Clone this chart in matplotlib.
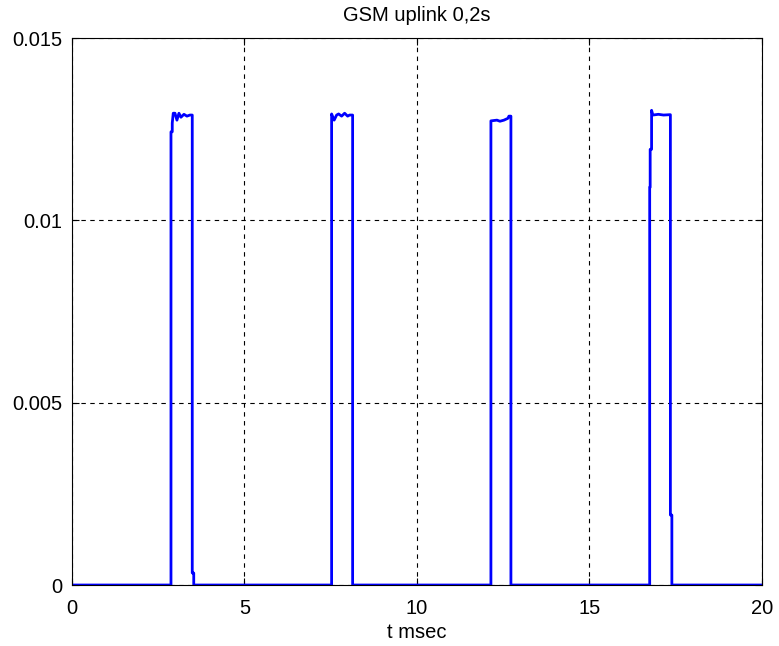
import numpy as np
import matplotlib
matplotlib.use('Agg')
import matplotlib.pyplot as plt

plt.rcParams['font.family'] = ['Liberation Sans', 'DejaVu Sans']

# burst envelope points (t in ms, amplitude)
t_ms = [0.0,
        2.870, 2.870, 2.907, 2.907, 2.936, 2.986, 3.043, 3.101, 3.159, 3.246, 3.333, 3.420, 3.487, 3.487, 3.530, 3.530,
        7.527, 7.527, 7.600, 7.672, 7.730, 7.817, 7.904, 7.991, 8.049, 8.136, 8.136,
        12.145, 12.145, 12.320, 12.407, 12.522, 12.638, 12.667, 12.725, 12.725,
        16.748, 16.748, 16.762, 16.762, 16.803, 16.803, 16.840, 17.000, 17.150, 17.333, 17.348, 17.348, 17.391, 17.391,
        20.0]
amp = [0.0,
       0.0, 0.01243, 0.01243, 0.01267, 0.01294, 0.01294, 0.01275, 0.01294, 0.01283, 0.01291, 0.01286, 0.01289, 0.01289, 0.00033, 0.00033, 0.0,
       0.0, 0.01292, 0.01275, 0.01289, 0.01292, 0.01286, 0.01294, 0.01286, 0.01289, 0.01289, 0.0,
       0.0, 0.01273, 0.01275, 0.01272, 0.01275, 0.01280, 0.01286, 0.01286, 0.0,
       0.0, 0.01091, 0.01091, 0.01195, 0.01195, 0.01302, 0.01289, 0.01291, 0.01289, 0.01290, 0.01290, 0.00192, 0.00192, 0.0,
       0.0]

xticks = [0, 5, 10, 15, 20]
yticks = [0, 0.005, 0.01, 0.015]
ytick_labels = ['0', '0.005', '0.01', '0.015']

fig = plt.figure(figsize=(7.79, 6.46), dpi=100)
ax = fig.add_axes([0.0924, 0.0944, 0.8856, 0.8466])
ax.plot(t_ms, amp, color='#0000ff', linewidth=2)
ax.set_xlim(0, 20)
ax.set_ylim(0, 0.015)
ax.set_xticks(xticks)
ax.set_yticks(yticks)
ax.set_yticklabels(ytick_labels)
ax.tick_params(direction='in', top=True, right=True, labelsize=14.5, length=5, pad=7)
ax.tick_params(axis='x', pad=10)
ax.grid(True, color='black', linestyle=(0, (4, 4)), linewidth=0.8)
for s in ax.spines.values():
    s.set_linewidth(0.8)
ax.set_xlabel('t msec', fontsize=14.5, labelpad=4)
ax.set_title('GSM uplink 0,2s', fontsize=14.5, pad=12)

fig.savefig('out.png', dpi=100)
